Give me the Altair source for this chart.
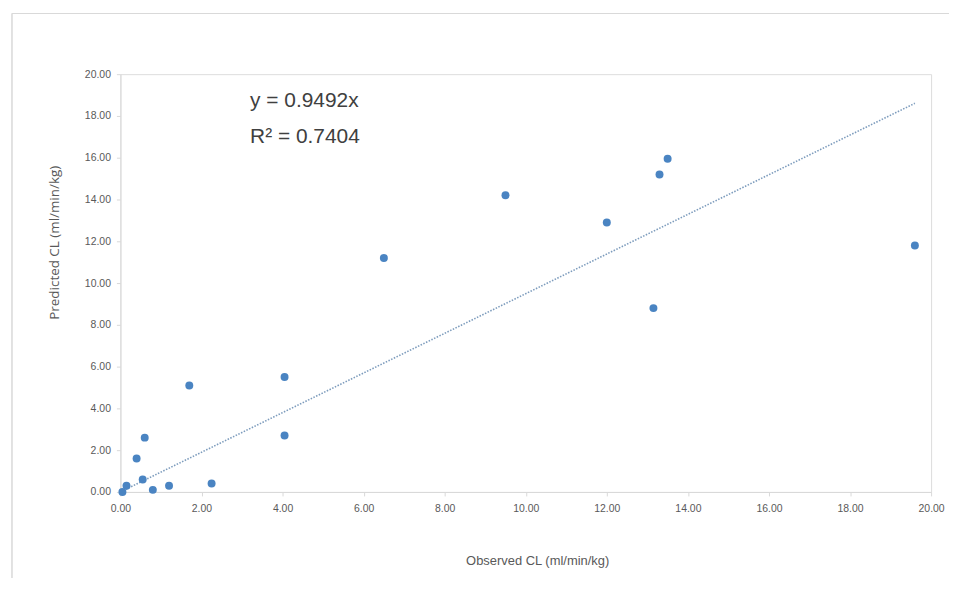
import altair as alt
import pandas as pd

# Observed vs predicted clearance (ml/min/kg)
observed = [0.05, 0.15, 0.4, 0.55, 0.6, 0.8, 1.2, 1.7, 2.25, 4.05, 4.05,
            6.5, 9.5, 12.0, 13.15, 13.3, 13.5, 19.6]
predicted = [0.0, 0.3, 1.6, 0.6, 2.6, 0.1, 0.3, 5.1, 0.4, 5.5, 2.7,
             11.2, 14.2, 12.9, 8.8, 15.2, 15.95, 11.8]

slope = 0.9492
r2 = 0.7404
equation_lines = ["y = 0.9492x", "R² = 0.7404"]
tick_values = [0, 2, 4, 6, 8, 10, 12, 14, 16, 18, 20]

pts = pd.DataFrame({"obs": observed, "pred": predicted})
trend = pd.DataFrame({"obs": [0.0, max(observed)],
                      "pred": [0.0, slope * max(observed)]})
eq = pd.DataFrame({"line": equation_lines, "obs": [3.2, 3.2], "pred": [18.7, 17.0]})

font = "Liberation Sans Narrow, Arial Narrow, sans-serif"
grey = "#595959"

xscale = alt.Scale(domain=[0, 20], nice=False)
yscale = alt.Scale(domain=[0, 20], nice=False)

xaxis = alt.Axis(values=tick_values, format=".2f", title="Observed CL (ml/min/kg)",
                 grid=False, domainColor="#d9d9d9", tickColor="#d9d9d9", tickSize=4,
                 labelFlush=False, labelOverlap=False,
                 labelFont=font, labelFontSize=10.5, labelColor=grey, labelPadding=8,
                 titleFont=font, titleFontSize=13, titleColor=grey,
                 titleFontWeight="normal", titlePadding=40, titleX=419)
yaxis = alt.Axis(values=tick_values, format=".2f", title="Predicted CL (ml/min/kg)",
                 grid=False, domainColor="#d9d9d9", tickColor="#d9d9d9", tickSize=4,
                 labelFlush=False, labelOverlap=False,
                 labelFont=font, labelFontSize=10.5, labelColor=grey, labelPadding=6,
                 titleFont="Open Sans", titleFontSize=13.5, titleColor=grey,
                 titleFontWeight="normal", titleX=-59, titleY=169)

points = alt.Chart(pts).mark_circle(size=64, color="#4a84c2", opacity=1).encode(
    x=alt.X("obs:Q", scale=xscale, axis=xaxis),
    y=alt.Y("pred:Q", scale=yscale, axis=yaxis),
)

line = alt.Chart(trend).mark_line(color="#7d9cbd", strokeWidth=1.6,
                                  strokeDash=[1.5, 1.5]).encode(
    x=alt.X("obs:Q", scale=xscale),
    y=alt.Y("pred:Q", scale=yscale),
)

text = alt.Chart(eq).mark_text(align="left", baseline="middle", font=font,
                               fontSize=21, color="#404040").encode(
    x=alt.X("obs:Q", scale=xscale),
    y=alt.Y("pred:Q", scale=yscale),
    text="line:N",
)

# outer frame of the chart area
frame_top = alt.Chart(trend).mark_rule(color="#d9d9d9", strokeWidth=1).encode(
    x=alt.value(-109), x2=alt.value(860), y=alt.value(-61))
frame_left = alt.Chart(trend).mark_rule(color="#d9d9d9", strokeWidth=1).encode(
    x=alt.value(-109), y=alt.value(-61), y2=alt.value(540))

chart = alt.layer(frame_top, frame_left, line, points, text).properties(
    width=815, height=420,
    autosize=alt.AutoSizeParams(type="none"),
    padding={"left": 113, "top": 65, "right": 18, "bottom": 85},
).configure_view(stroke=None).configure(background="white")

chart.save("out.html", embed_options={"renderer": "svg", "actions": False})
